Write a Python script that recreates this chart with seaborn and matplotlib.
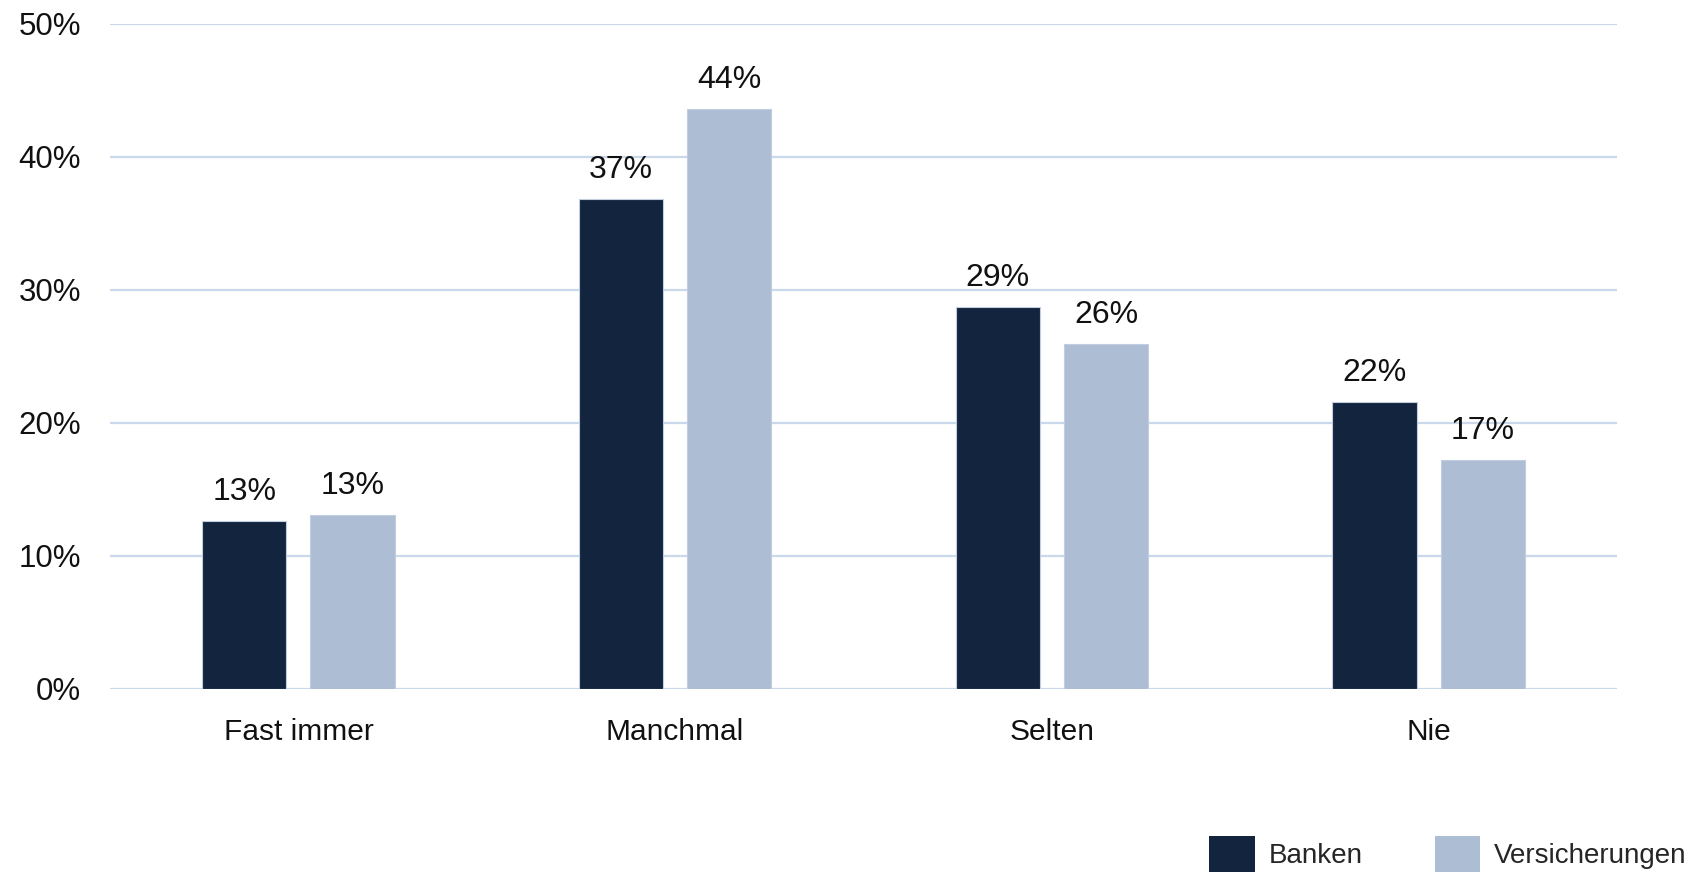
import matplotlib
matplotlib.use("Agg")
import matplotlib.pyplot as plt
import seaborn as sns
import pandas as pd
from matplotlib.ticker import FuncFormatter

categories = ["Fast immer", "Manchmal", "Selten", "Nie"]
banken = [12.6, 36.8, 28.7, 21.6]
versicherungen = [13.1, 43.6, 25.9, 17.2]
labels_banken = ["13%", "37%", "29%", "22%"]
labels_vers = ["13%", "44%", "26%", "17%"]
series = ["Banken", "Versicherungen"]
colors = {"Banken": "#13253e", "Versicherungen": "#adbdd4"}

df = pd.DataFrame({
    "Kategorie": categories * 2,
    "Wert": banken + versicherungen,
    "Serie": [series[0]] * 4 + [series[1]] * 4,
})

sns.set_theme(style="white")
plt.rcParams["font.family"] = ["Liberation Sans", "DejaVu Sans"]

fig = plt.figure(figsize=(16.98, 8.76), dpi=100)
ax = fig.add_axes([110 / 1698, 1 - 689 / 876, (1617 - 110) / 1698, (689 - 23.5) / 876])

sns.barplot(data=df, x="Kategorie", y="Wert", hue="Serie", order=categories,
            hue_order=series, palette=colors, width=0.574, gap=0.22,
            saturation=1, legend=False, ax=ax, errorbar=None, zorder=3,
            edgecolor="#c2cde0", linewidth=0.8)

ax.set_ylim(0, 50)
ax.set_xlim(-0.5, 3.5)
ax.set_yticks([0, 10, 20, 30, 40, 50])
ax.yaxis.set_major_formatter(FuncFormatter(lambda v, p: f"{v:.0f}%"))
ax.grid(axis="y", color="#c9d8ea", linewidth=1.6, zorder=0)
ax.grid(axis="x", visible=False)
for s in ax.spines.values():
    s.set_visible(False)
ax.tick_params(axis="y", length=0, pad=21, labelsize=22.5, labelcolor="#111111")
ax.tick_params(axis="x", length=0, pad=21, labelsize=21.5, labelcolor="#111111")
ax.set_xlabel("")
ax.set_ylabel("")

for cont, labs in zip(ax.containers, [labels_banken, labels_vers]):
    ax.bar_label(cont, labels=labs, padding=10, fontsize=23, color="#111111")

handles = [plt.Rectangle((0, 0), 1, 1, facecolor=colors[s], edgecolor="none") for s in series]
fig.legend(handles, series, loc="upper left",
           bbox_to_anchor=(1209 / 1698, 1 - 836 / 876), ncol=2, frameon=False,
           fontsize=20, handlelength=1.64, handleheight=1.6, handletextpad=0.5,
           columnspacing=2.6, borderpad=0, borderaxespad=0)

fig.savefig("out.png", dpi=100)
